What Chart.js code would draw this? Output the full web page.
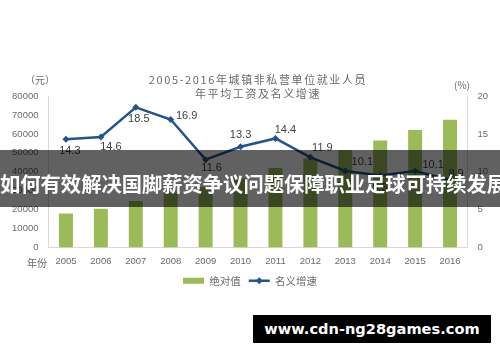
<!DOCTYPE html>
<html>
<head>
<meta charset="utf-8">
<script src="https://cdn.jsdelivr.net/npm/chart.js@4/dist/chart.umd.min.js"></script>
<style>
  body { margin: 0; background: #fff; }
  #wrap { position: relative; width: 500px; height: 362px; overflow: hidden; }
  #banner { position: absolute; left: 0; top: 150px; width: 500px; height: 57px; background: rgba(0,0,0,0.62); }
  #banner span { position: absolute; left: 0; top: 22px; width: 500px; text-align: center; color: #fff;
    font: bold 20.3px "Noto Sans CJK SC"; line-height: 22px; white-space: nowrap; }
  #mark { position: absolute; left: 253px; top: 315px; width: 238px; height: 28px; background: #000; color: #fff;
    font: bold 14.6px "DejaVu Sans"; line-height: 28px; text-align: center; white-space: nowrap; }
</style>
</head>
<body>
<div id="wrap">
  <canvas id="chart" width="500" height="362"></canvas>
  <div id="banner"><span>如何有效解决国脚薪资争议问题保障职业足球可持续发展</span></div>
  <div id="mark">www.cdn-ng28games.com</div>
</div>
<script>
// données
const years = ['2005', '2006', '2007', '2008', '2009', '2010', '2011', '2012', '2013', '2014', '2015', '2016']
const wages = [18000, 20500, 24500, 29000, 32000, 36500, 42000, 47000, 51500, 56500, 62000, 67500]
const growth = [14.3, 14.6, 18.5, 16.9, 11.6, 13.3, 14.4, 11.9, 10.1, 9.5, 10.1, 8.9]
const leftTicks = [0, 10000, 20000, 30000, 40000, 50000, 60000, 70000, 80000]
const rightTicks = [0, 5, 10, 15, 20]
const titleLines = ['2005-2016年城镇非私营单位就业人员', '年平均工资及名义增速']

// décalage des étiquettes par rapport au point (px)
const labelOffsets = [[4, 12], [10, 10], [3, 12], [16, -4], [6, 8], [0, -12], [10, -8], [12, -9], [17, -9], [0, 12], [18, -6], [6, -6]]

const green = '#9bbb59'
const blue = '#24558a'
const grey = '#6a6a6a'

// titre, unités, étiquettes de la courbe et losange de la légende
const extras = {
  id: 'extras',
  afterDraw(chart) {
    const ctx = chart.ctx
    ctx.save()
    ctx.fillStyle = grey
    ctx.textAlign = 'center'
    ctx.textBaseline = 'middle'
    ctx.font = '11px "Noto Sans CJK SC"'
    ctx.letterSpacing = '1.6px'
    ctx.fillText(titleLines[0], 258, 80)
    ctx.fillText(titleLines[1], 258, 94)
    ctx.letterSpacing = '0px'
    ctx.font = '10px "Noto Sans CJK SC"'
    ctx.fillText('（元）', 40, 80)
    ctx.fillText('(%)', 462, 85)
    ctx.textAlign = 'left'
    ctx.fillText('年份', 27, 263)

    const meta = chart.getDatasetMeta(1)
    ctx.font = '11px "Liberation Sans"'
    ctx.fillStyle = '#404040'
    ctx.textAlign = 'center'
    meta.data.forEach((pt, i) => {
      const off = labelOffsets[i]
      ctx.fillText(growth[i].toFixed(1), pt.x + off[0], pt.y + off[1])
    })

    // petit losange au milieu du trait de légende
    const box = chart.legend.legendHitBoxes[1]
    if (box) {
      const cx = box.left + 10.5
      const cy = box.top + 5.25
      ctx.fillStyle = blue
      ctx.beginPath()
      ctx.moveTo(cx, cy - 3.5)
      ctx.lineTo(cx + 3.5, cy)
      ctx.lineTo(cx, cy + 3.5)
      ctx.lineTo(cx - 3.5, cy)
      ctx.closePath()
      ctx.fill()
    }
    ctx.restore()
  }
}

const tickFont = { family: '"Liberation Sans"', size: 9.5 }

new Chart(document.getElementById('chart'), {
  data: {
    labels: years,
    datasets: [
      {
        type: 'bar',
        label: '绝对值',
        data: wages,
        backgroundColor: green,
        borderWidth: 0,
        categoryPercentage: 1,
        barPercentage: 0.4,
        yAxisID: 'y',
        order: 2
      },
      {
        type: 'line',
        label: '名义增速',
        data: growth,
        borderColor: blue,
        backgroundColor: blue,
        borderWidth: 2.5,
        pointStyle: 'rectRot',
        pointRadius: 3.5,
        pointBackgroundColor: blue,
        pointBorderWidth: 0,
        tension: 0,
        yAxisID: 'y1',
        order: 1
      }
    ]
  },
  options: {
    responsive: false,
    animation: false,
    layout: { padding: { top: 96, left: 0, right: 0, bottom: 66 } },
    scales: {
      x: {
        grid: { display: false, drawTicks: false },
        border: { color: '#d9d9d9' },
        ticks: { color: grey, font: tickFont, padding: 8 },
        afterFit: s => { s.height = 20 }
      },
      y: {
        position: 'left',
        min: 0,
        max: 80000,
        grid: { display: false, drawTicks: false },
        border: { color: '#d9d9d9' },
        afterBuildTicks: s => { s.ticks = leftTicks.map(v => ({ value: v })) },
        ticks: { color: grey, font: tickFont, padding: 10, callback: v => String(v) },
        afterFit: s => { s.width = 48.5 }
      },
      y1: {
        position: 'right',
        min: 0,
        max: 20,
        grid: { display: false, drawTicks: false },
        border: { color: '#d9d9d9' },
        afterBuildTicks: s => { s.ticks = rightTicks.map(v => ({ value: v })) },
        ticks: { color: grey, font: tickFont, padding: 10, callback: v => String(v) },
        afterFit: s => { s.width = 32.5 }
      }
    },
    plugins: {
      title: { display: false },
      tooltip: { enabled: false },
      legend: {
        position: 'bottom',
        labels: {
          color: grey,
          font: { family: '"Noto Sans CJK SC"', size: 10.5 },
          usePointStyle: true,
          pointStyleWidth: 21,
          boxHeight: 6,
          padding: 8,
          sort: (a, b) => a.datasetIndex - b.datasetIndex,
          generateLabels: chart => {
            const items = Chart.defaults.plugins.legend.labels.generateLabels(chart)
            items.forEach(it => {
              if (it.datasetIndex === 0) {
                it.pointStyle = 'rect'
              } else {
                it.pointStyle = 'line'
                it.lineWidth = 2.5
                it.strokeStyle = blue
              }
            })
            return items
          }
        }
      }
    }
  },
  plugins: [extras]
})
</script>
</body>
</html>
